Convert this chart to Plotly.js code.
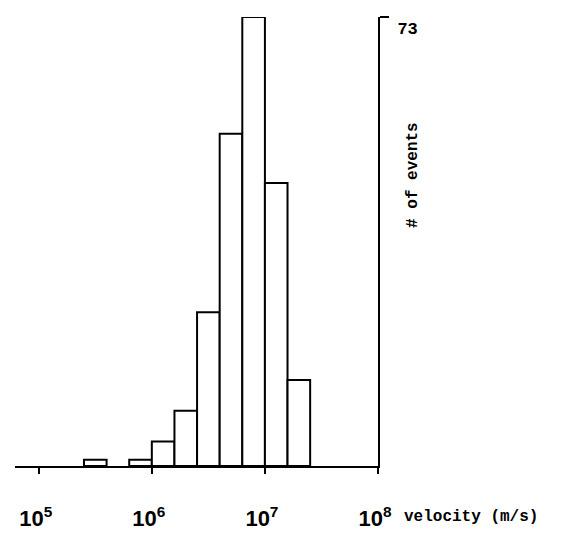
<!DOCTYPE html>
<html>
<head>
<meta charset="utf-8">
<script src="https://cdn.plot.ly/plotly-3.0.1.min.js"></script>
<style>html,body{margin:0;padding:0;background:#fff;}#chart{width:562px;height:540px;}</style>
</head>
<body>
<div id="chart"></div>
<script>
// log10(velocity) at the left edge of each bin (bins are 0.2 decades wide)
const binStartLog10 = [5.4, 5.8, 6.0, 6.2, 6.4, 6.6, 6.8, 7.0, 7.2];
const binWidthLog10 = 0.2;
const counts = [1, 1, 4, 9, 25, 54, 73, 46, 14];
const xTickVals = [5, 6, 7, 8];
const xTickText = ['10<sup>5</sup>', '10<sup>6</sup>', '10<sup>7</sup>', '10<sup>8</sup>'];
const yTickVals = [73];
const yTickText = ['73'];

const trace = {
  type: 'bar',
  x: binStartLog10,
  y: counts,
  width: binStartLog10.map(() => binWidthLog10),
  offset: 0,
  marker: {color: '#ffffff', line: {color: '#000000', width: 2}},
  hoverinfo: 'x+y'
};

const layout = {
  width: 562, height: 540,
  margin: {l: 15, r: 184, t: 17, b: 74},
  paper_bgcolor: '#ffffff', plot_bgcolor: '#ffffff',
  showlegend: false,
  bargap: 0,
  xaxis: {
    range: [4.79, 8.0],
    tickvals: xTickVals, ticktext: xTickText,
    ticks: 'outside', ticklen: 6, tickwidth: 2, tickcolor: '#000',
    showline: true, linecolor: '#000', linewidth: 2,
    showgrid: false, zeroline: false,
    ticklabelshift: -3, ticklabelstandoff: 26,
    tickfont: {family: 'Liberation Sans, Arial, sans-serif', size: 22, color: '#000', weight: 'bold'}
  },
  yaxis: {
    range: [0, 73], side: 'right',
    tickvals: yTickVals, ticktext: yTickText,
    ticks: 'outside', ticklen: 9, tickwidth: 2, tickcolor: '#000',
    showline: true, linecolor: '#000', linewidth: 2,
    showgrid: false, zeroline: false,
    ticklabelshift: 11, ticklabelstandoff: 5,
    tickfont: {family: 'Liberation Mono, monospace', size: 17, color: '#000', weight: 'bold'}
  },
  annotations: [
    {text: '# of events', xref: 'paper', yref: 'paper', x: 1.096, y: 0.648,
     textangle: -90, showarrow: false, xanchor: 'center', yanchor: 'middle',
     font: {family: 'Liberation Mono, monospace', size: 16, color: '#000', weight: 'bold'}},
    {text: 'velocity (m/s)', xref: 'paper', yref: 'paper', x: 1.255, y: -0.114,
     showarrow: false, xanchor: 'center', yanchor: 'middle',
     font: {family: 'Liberation Mono, monospace', size: 16, color: '#000', weight: 'bold'}}
  ]
};

Plotly.newPlot('chart', [trace], layout, {displayModeBar: false, staticPlot: true});
</script>
</body>
</html>
